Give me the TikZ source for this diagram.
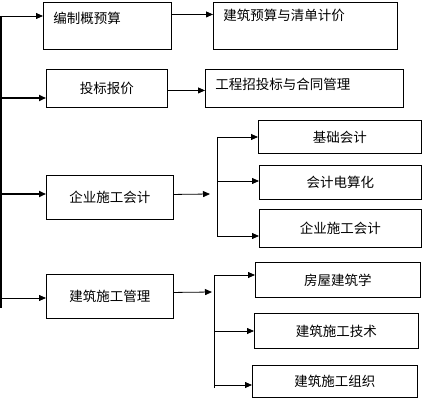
\documentclass[tikz,border=0pt]{standalone}
\usepackage{fontspec}
\newfontfamily\cjk{Noto Sans CJK SC}
\usetikzlibrary{arrows.meta, positioning}

\begin{document}
\begin{tikzpicture}[
    x=1pt, y=-1pt,
    box/.style={rectangle, draw=black, line width=0.9pt, anchor=north west, align=center, inner sep=0pt, font=\cjk\fontsize{13.5}{16}\selectfont},
    leftbox/.style={box, align=left, inner xsep=10pt},
    arrow/.style={-{Triangle[length=7pt, width=6pt]}, line width=0.8pt, black},
    thickarrow/.style={arrow, line width=1.6pt},
    line/.style={line width=0.8pt, black}
]
\useasboundingbox (0,0) rectangle (426,409);

% left column
\node[leftbox, text width=108pt, text height=21pt, text depth=26pt] (budget) at (43,2) {编制概预算};
\node[box, minimum width=121pt, minimum height=38pt] (pricing) at (46,69) {投标报价};
\node[box, minimum width=127pt, minimum height=44pt] (acct) at (46,175) {企业施工会计};
\node[box, minimum width=127pt, minimum height=44pt] (mgmt) at (46,274) {建筑施工管理};

% right column
\node[leftbox, text width=164pt, text height=18pt, text depth=29pt] (bill) at (213,2) {建筑预算与清单计价};
\node[leftbox, text width=178pt, text height=20pt, text depth=18pt] (contract) at (205,69) {工程招投标与合同管理};
\node[box, minimum width=163pt, minimum height=33pt] (basic) at (258,120) {基础会计};
\node[box, minimum width=162pt, minimum height=34pt] (comp) at (259,165) {会计电算化};
\node[box, minimum width=162pt, minimum height=38pt] (acct2) at (259,209) {企业施工会计};
\node[box, minimum width=165pt, minimum height=35pt] (arch) at (255,262) {房屋建筑学};
\node[box, minimum width=164pt, minimum height=35pt] (tech) at (254,313) {建筑施工技术};
\node[box, minimum width=165pt, minimum height=32pt] (org) at (252,365) {建筑施工组织};

% main bar
\coordinate (bartop) at (1,16);
\coordinate (bar2) at (1,98);
\coordinate (bar3) at (1,194);
\coordinate (bar4) at (1,298);
\coordinate (barbot) at (1,308);
\draw[line, line width=1.6pt] (bartop) -- (barbot);
\draw[arrow] (bartop) -- (bartop -| budget.west);
\draw[thickarrow] (bar2) -- (bar2 -| pricing.west);
\draw[thickarrow] (bar3) -- (bar3 -| acct.west);
\draw[arrow] (bar4) -- (bar4 -| mgmt.west);

% to the right
\draw[arrow] ([yshift=11.5pt]budget.east) -- ([yshift=11.5pt]budget.east -| bill.west);
\draw[arrow] ([yshift=-2pt]pricing.east) -- ([yshift=-2pt]contract.west);

% accounting branch
\coordinate (j1) at (210,194);
\coordinate (t1) at (217,137);
\coordinate (m1) at (217,181);
\coordinate (b1) at (217,236);
\draw[arrow] ([yshift=3pt]acct.east) -- (j1);
\draw[line] (t1) -- (b1);
\draw[arrow] (t1) -- (t1 -| basic.west);
\draw[arrow] (m1) -- (m1 -| comp.west);
\draw[arrow] (b1) -- (b1 -| acct2.west);

% management branch
\coordinate (j2) at (212,292);
\coordinate (t2) at (214,275);
\coordinate (m2) at (214,331);
\coordinate (b2) at (214,385);
\coordinate (e2) at (214,388);
\draw[arrow] ([yshift=4pt]mgmt.east) -- (j2);
\draw[line] (t2) -- (e2);
\draw[arrow] (t2) -- (t2 -| arch.west);
\draw[arrow] (m2) -- (m2 -| tech.west);
\draw[arrow] (b2) -- (b2 -| org.west);
\end{tikzpicture}
\end{document}
